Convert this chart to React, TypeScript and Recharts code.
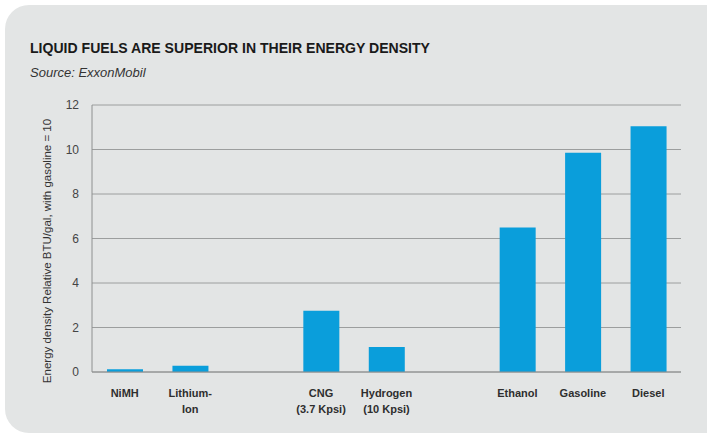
import { BarChart, Bar, XAxis, YAxis, CartesianGrid } from "recharts"

const categories = ["nimh", "lithium", "gap1", "cng", "hydrogen", "gap2", "ethanol", "gasoline", "diesel"]
const tickLabels = [
  ["NiMH"],
  ["Lithium-", "Ion"],
  [],
  ["CNG", "(3.7 Kpsi)"],
  ["Hydrogen", "(10 Kpsi)"],
  [],
  ["Ethanol"],
  ["Gasoline"],
  ["Diesel"],
]
const values = [0.12, 0.28, null, 2.75, 1.12, null, 6.5, 9.85, 11.05]
const yTicks = [0, 2, 4, 6, 8, 10, 12]

const data = categories.map((c, i) => ({ key: c, value: values[i] }))

const FONT = "'Liberation Sans', Arial, sans-serif"

function CategoryTick(props: any) {
  const { x, y, index } = props
  const lines = tickLabels[index] || []
  return (
    <g>
      {lines.map((l, i) => (
        <text
          key={i}
          x={x}
          y={y + 17 + i * 16}
          textAnchor="middle"
          fontFamily={FONT}
          fontSize={11}
          fontWeight="bold"
          fill="#2e2e2e"
        >
          {l}
        </text>
      ))}
    </g>
  )
}

export default function App() {
  return (
    <div style={{ position: "absolute", left: 0, top: 0, width: 707, height: 437, background: "#ffffff", overflow: "hidden" }}>
      <div
        style={{
          position: "absolute",
          left: 5,
          top: 5,
          width: 730,
          height: 428,
          borderRadius: 24,
          background: "#e3e5e5",
        }}
      />
      <div style={{ position: "absolute", left: 0, top: 0 }}>
        <BarChart
          width={707}
          height={437}
          data={data}
          margin={{ top: 105, right: 26, bottom: 35, left: 62 }}
        >
          <CartesianGrid vertical={false} stroke="#9c9e9e" />
          <XAxis
            dataKey="key"
            tick={<CategoryTick />}
            tickLine={false}
            axisLine={{ stroke: "#8e9090" }}
            interval={0}
          />
          <YAxis
            domain={[0, 12]}
            ticks={yTicks}
            width={30}
            tickSize={0}
            tickMargin={13}
            axisLine={{ stroke: "#8e9090" }}
            tick={{ fontFamily: FONT, fontSize: 12, fill: "#444" }}
          />
          <YAxis
            yAxisId="right"
            orientation="right"
            domain={[0, 12]}
            width={0}
            tick={false}
            tickLine={false}
            axisLine={{ stroke: "#8e9090" }}
          />
          <Bar dataKey="value" fill="#0a9edb" barSize={36} isAnimationActive={false} />
          <text
            x={30}
            y={53}
            fontFamily={FONT}
            fontWeight="bold"
            fontSize={15}
            fill="#1a1a1a"
            textLength={400}
            lengthAdjust="spacingAndGlyphs"
          >
            LIQUID FUELS ARE SUPERIOR IN THEIR ENERGY DENSITY
          </text>
          <text x={30} y={77} fontFamily={FONT} fontStyle="italic" fontSize={13} fill="#333">
            Source: ExxonMobil
          </text>
          <text
            x={0}
            y={0}
            transform="translate(51, 251) rotate(-90)"
            textAnchor="middle"
            fontFamily={FONT}
            fontSize={11.5}
            fill="#333"
          >
            Energy density Relative BTU/gal, with gasoline = 10
          </text>
        </BarChart>
      </div>
    </div>
  )
}
